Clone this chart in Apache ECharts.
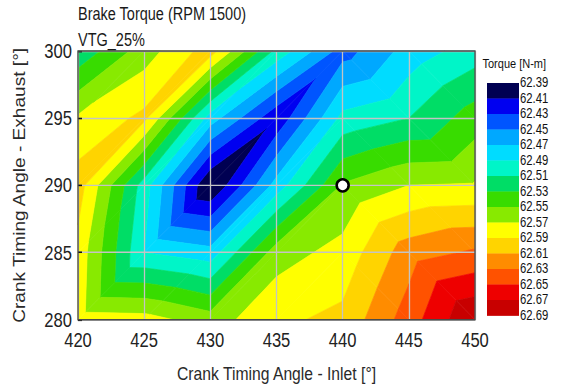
<!DOCTYPE html>
<html><head><meta charset="utf-8">
<script src="https://cdn.jsdelivr.net/npm/echarts@6/dist/echarts.min.js"></script>
<style>
html,body{margin:0;padding:0;background:#fff;overflow:hidden;width:565px;height:389px}
/* the reference picture is stretched vertically; reproduce that stretch */
#c{width:565px;height:320px;transform:scaleY(1.215625);transform-origin:0 0}
</style>
</head><body><div id="c"></div>
<script>
// ---- data ----
const xValues = [420, 425, 430, 435, 440, 445, 450];     // Crank Timing Angle - Inlet
const yValues = [280, 285, 290, 295, 300];               // Crank Timing Angle - Exhaust
const torque280 = [62.580, 62.578, 62.560, 62.586, 62.595, 62.640, 62.6895];
const torque285 = [62.583, 62.490, 62.478, 62.561, 62.577, 62.621, 62.633];
const torque290 = [62.600, 62.500, 62.388, 62.478, 62.552, 62.570, 62.572];
const torque295 = [62.573, 62.595, 62.480, 62.414, 62.496, 62.510, 62.540];
const torque300 = [62.515, 62.560, 62.600, 62.504, 62.441, 62.478, 62.500];
const torqueRows = [torque280, torque285, torque290, torque295, torque300];
const levels = [62.39, 62.41, 62.43, 62.45, 62.47, 62.49, 62.51, 62.53, 62.55, 62.57, 62.59, 62.61, 62.63, 62.65, 62.67, 62.69];
const levelLabels = ['62.39','62.41','62.43','62.45','62.47','62.49','62.51','62.53','62.55','62.57','62.59','62.61','62.63','62.65','62.67','62.69'];
const bandColors = ['#000052','#0000f0','#0055ff','#00a8ff','#00dcff','#00f5c8','#00dd66','#38dc00','#88ea00','#ffff00','#ffd400','#ff8c00','#ff5200','#ee0000','#c80000'];
const cellDiagonals = ['/', '/', '/', '/', '\\', '\\'];   // triangulation of each column of cells
const xTicks = [420, 425, 430, 435, 440, 445, 450];
const yTicks = [280, 285, 290, 295, 300];
const operatingPoint = [[440, 290]];
const titleLines = ['Brake Torque (RPM 1500)', 'VTG_25%'];
const legendTitle = 'Torque [N-m]';

const S = 1.215625;          // vertical stretch applied by CSS
const FONT = '"Liberation Sans", Arial, sans-serif';

// ---- triangulation ----
const triangles = [];
for (let i = 0; i < xValues.length - 1; i++) {
  for (let j = 0; j < yValues.length - 1; j++) {
    const P = (a, b) => [xValues[a], yValues[b], torqueRows[b][a]];
    if (cellDiagonals[i] === '/') {
      triangles.push([P(i, j), P(i + 1, j), P(i + 1, j + 1)]);
      triangles.push([P(i, j), P(i + 1, j + 1), P(i, j + 1)]);
    } else {
      triangles.push([P(i, j), P(i + 1, j), P(i, j + 1)]);
      triangles.push([P(i + 1, j), P(i + 1, j + 1), P(i, j + 1)]);
    }
  }
}
const triData = triangles.map((t, n) => [(t[0][0] + t[1][0] + t[2][0]) / 3, (t[0][1] + t[1][1] + t[2][1]) / 3, n]);

function clip(poly, f) {
  const out = [];
  for (let q = 0; q < poly.length; q++) {
    const a = poly[q], b = poly[(q + 1) % poly.length];
    const fa = f(a), fb = f(b);
    if (fa >= 0) out.push(a);
    if ((fa >= 0) !== (fb >= 0)) {
      const t = fa / (fa - fb);
      out.push([a[0] + t * (b[0] - a[0]), a[1] + t * (b[1] - a[1]), a[2] + t * (b[2] - a[2])]);
    }
  }
  return out;
}

// ---- legend (colour bar) ----
const barX = 487, barTop = 83 / S, barW = 32, barH = 15.5 / S;
const graphics = [];
graphics.push({type:'text', x: 482.5, y: 64 / S, style:{text: legendTitle, fontFamily: FONT, fontSize: 11, fill:'#111', verticalAlign:'middle'}});
bandColors.forEach((c, b) => {
  graphics.push({type:'rect', shape:{x: barX, y: barTop + b * barH, width: barW, height: barH + 0.3}, style:{fill: c}});
});
levelLabels.forEach((lab, b) => {
  graphics.push({type:'text', x: barX + barW + 1, y: barTop + b * barH, style:{text: lab, fontFamily: FONT, fontSize: 11.3, fill:'#111', verticalAlign:'middle'}});
});

const chart = echarts.init(document.getElementById('c'), null, {renderer: 'svg'});
chart.setOption({
  animation: false,
  backgroundColor: '#fff',
  title: {
    text: titleLines.join('\n'), left: 78, top: 0.6, padding: 0,
    textStyle: {fontFamily: FONT, fontSize: 14.5, fontWeight: 'normal', color: '#1a1a1a', lineHeight: 21.4}
  },
  grid: {left: 78, right: 90, top: 51 / S, bottom: 67 / S, show: true, z: 4, borderColor: '#4a4a4a', borderWidth: 1.3, backgroundColor: 'transparent'},
  xAxis: {
    type: 'value', min: xTicks[0], max: xTicks[xTicks.length - 1], interval: 5, z: 3,
    name: 'Crank Timing Angle - Inlet [°]', nameLocation: 'middle', nameGap: 36,
    nameTextStyle: {fontFamily: FONT, fontSize: 15.7, color: '#2a2a2a'},
    axisLine: {show: false}, axisTick: {show: false},
    axisLabel: {fontFamily: FONT, fontSize: 16.6, color: '#222', margin: 8},
    splitLine: {show: true, lineStyle: {color: '#c4c4c4', width: 1.3}}
  },
  yAxis: {
    type: 'value', min: yTicks[0], max: yTicks[yTicks.length - 1], interval: 5, z: 3,
    name: 'Crank Timing Angle - Exhaust [°]', nameLocation: 'middle', nameGap: 50,
    nameTextStyle: {fontFamily: FONT, fontSize: 15.7, color: '#2a2a2a'},
    axisLine: {show: false},
    axisTick: {show: true, inside: true, length: 4, lineStyle: {color: '#111', width: 1.3}},
    axisLabel: {fontFamily: FONT, fontSize: 16.6, color: '#222', margin: 6, padding: [3, 0, 0, 0]},
    splitLine: {show: true, lineStyle: {color: '#c4c4c4', width: 1.1}}
  },
  graphic: graphics,
  series: [
    {
      type: 'custom', z: 1, data: triData, encode: {x: 0, y: 1}, silent: true,
      renderItem: function (params, api) {
        const tri = triangles[api.value(2)];
        const children = [];
        for (let b = 0; b < bandColors.length; b++) {
          const lo = b === 0 ? -Infinity : levels[b];
          const hi = b === bandColors.length - 1 ? Infinity : levels[b + 1];
          let poly = clip(tri, p => p[2] - lo);
          if (poly.length < 3) continue;
          poly = clip(poly, p => hi - p[2]);
          if (poly.length < 3) continue;
          children.push({type: 'polygon', shape: {points: poly.map(p => api.coord([p[0], p[1]]))},
            style: {fill: bandColors[b], stroke: bandColors[b], lineWidth: 0.6}});
        }
        return {type: 'group', children: children};
      }
    },
    {
      type: 'scatter', z: 10, data: operatingPoint, symbol: 'circle', symbolSize: [12, 12 / S],
      itemStyle: {color: '#ffffff', borderColor: '#000', borderWidth: 2.3, opacity: 1}
    }
  ]
});
</script></body></html>
